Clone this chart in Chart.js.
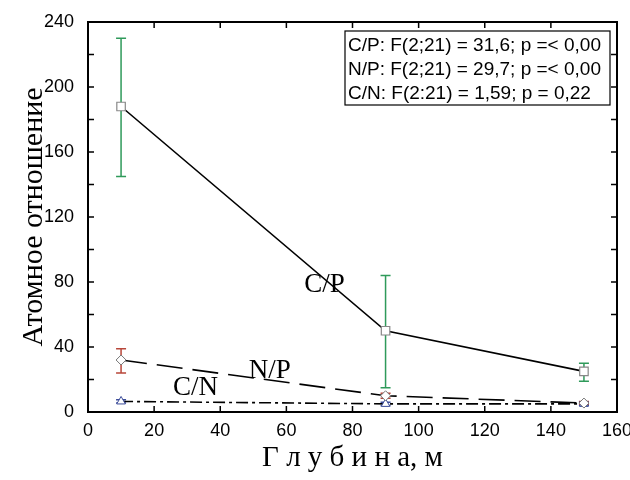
<!DOCTYPE html>
<html>
<head>
<meta charset="utf-8">
<script src="https://cdn.jsdelivr.net/npm/chart.js@4.4.0/dist/chart.umd.min.js"></script>
<style>
  body { margin: 0; background: #fff; }
  #wrap { width: 630px; height: 480px; position: relative; }
</style>
</head>
<body>
<div id="wrap"><canvas id="c"></canvas></div>
<script>
// depth, m
const depth = [10, 90, 150];
// C/P ratio, mean and error range
const cpMean = [188, 50, 25];
const cpHigh = [230, 84, 30];
const cpLow  = [145, 15, 19];
// N/P ratio
const npMean = [32, 10, 5.5];
const npHigh = [39, 11.5, 6.5];
const npLow  = [24, 8.5, 4.5];
// C/N ratio
const cnMean = [6.5, 5, 5];
const cnHigh = [7.5, 6, 6];
const cnLow  = [5.5, 4, 4];

const statLines = [
  'C/P: F(2;21) = 31,6; p =< 0,00',
  'N/P: F(2;21) = 29,7; p =< 0,00',
  'C/N: F(2:21) = 1,59; p = 0,22'
];
// series labels placed in data coordinates
const seriesLabels = [
  { text: 'C/P', x: 71.5, y: 78 },
  { text: 'N/P', x: 55, y: 25 },
  { text: 'C/N', x: 32.5, y: 15 }
];

function pts(ys) { return depth.map((d, i) => ({ x: d, y: ys[i] })); }

const errSets = [
  { hi: cpHigh, lo: cpLow, color: '#2f9a5a' },
  { hi: npHigh, lo: npLow, color: '#b8473a' },
  { hi: cnHigh, lo: cnLow, color: '#3c4d9a' }
];

const extras = {
  id: 'extras',
  beforeDatasetsDraw(chart) {
    const ctx = chart.ctx, xs = chart.scales.x, ys = chart.scales.y;
    ctx.save();
    ctx.lineWidth = 1.5;
    errSets.forEach(e => {
      ctx.strokeStyle = e.color;
      depth.forEach((d, i) => {
        const px = xs.getPixelForValue(d);
        const t = ys.getPixelForValue(e.hi[i]), b = ys.getPixelForValue(e.lo[i]);
        ctx.beginPath();
        ctx.moveTo(px, t); ctx.lineTo(px, b);
        ctx.moveTo(px - 5, t); ctx.lineTo(px + 5, t);
        ctx.moveTo(px - 5, b); ctx.lineTo(px + 5, b);
        ctx.stroke();
      });
    });
    ctx.restore();
  },
  afterDraw(chart) {
    const ctx = chart.ctx, a = chart.chartArea, xs = chart.scales.x, ys = chart.scales.y;
    ctx.save();
    // frame
    ctx.strokeStyle = '#000';
    ctx.lineWidth = 2;
    ctx.strokeRect(a.left, a.top, a.right - a.left, a.bottom - a.top);
    // inward ticks
    ctx.lineWidth = 1.5;
    ctx.beginPath();
    for (let v = 0; v <= 160; v += 20) {
      const px = xs.getPixelForValue(v);
      ctx.moveTo(px, a.bottom); ctx.lineTo(px, a.bottom - 6);
      ctx.moveTo(px, a.top); ctx.lineTo(px, a.top + 6);
    }
    for (let v = 0; v <= 240; v += 20) {
      const py = ys.getPixelForValue(v);
      ctx.moveTo(a.left, py); ctx.lineTo(a.left + 6, py);
      ctx.moveTo(a.right, py); ctx.lineTo(a.right - 6, py);
    }
    ctx.stroke();
    // series labels
    ctx.fillStyle = '#000';
    ctx.font = '27px "Liberation Serif", "DejaVu Serif", serif';
    ctx.textAlign = 'center';
    ctx.textBaseline = 'middle';
    seriesLabels.forEach(l => {
      ctx.fillText(l.text, xs.getPixelForValue(l.x), ys.getPixelForValue(l.y));
    });
    // stats box
    const bx = 345, by = 31, bw = 265, bh = 74;
    ctx.fillStyle = '#fff';
    ctx.fillRect(bx, by, bw, bh);
    ctx.lineWidth = 1.2;
    ctx.strokeRect(bx, by, bw, bh);
    ctx.fillStyle = '#000';
    ctx.font = '19px "Liberation Sans", Arial, sans-serif';
    ctx.textAlign = 'left';
    statLines.forEach((s, i) => ctx.fillText(s, bx + 3, by + 15 + i * 24));
    ctx.restore();
  }
};

new Chart(document.getElementById('c'), {
  type: 'line',
  data: {
    datasets: [
      {
        label: 'C/P', data: pts(cpMean),
        borderColor: '#000', borderWidth: 1.6,
        pointStyle: 'rect', pointRadius: 6, pointBorderColor: '#888',
        pointBackgroundColor: '#fff', pointBorderWidth: 1.2
      },
      {
        label: 'N/P', data: pts(npMean),
        borderColor: '#000', borderWidth: 1.6, borderDash: [26, 10],
        pointStyle: 'rectRot', pointRadius: 5, pointBorderColor: '#777',
        pointBackgroundColor: '#fff', pointBorderWidth: 1
      },
      {
        label: 'C/N', data: pts(cnMean),
        borderColor: '#000', borderWidth: 1.6, borderDash: [12, 4, 3, 4],
        pointStyle: 'triangle', pointRadius: 5, pointBorderColor: '#3c4d9a',
        pointBackgroundColor: '#fff', pointBorderWidth: 1
      }
    ]
  },
  options: {
    responsive: true,
    maintainAspectRatio: false,
    animation: false,
    layout: { padding: { left: 0, right: 13, top: 22, bottom: 0 } },
    plugins: { legend: { display: false }, tooltip: { enabled: false } },
    scales: {
      x: {
        type: 'linear', min: 0, max: 160,
        grid: { display: false },
        border: { display: false },
        ticks: { stepSize: 20, color: '#000', padding: 0,
          font: { family: '"Liberation Sans", Arial, sans-serif', size: 18 } },
        title: { display: true, text: 'Г л у б и н а, м', color: '#000', padding: { top: 4 },
          font: { family: '"Liberation Serif", "DejaVu Serif", serif', size: 29 } },
        afterFit(s) { s.height = 68; s.paddingLeft = 0; s.paddingRight = 0; }
      },
      y: {
        min: 0, max: 240,
        grid: { display: false },
        border: { display: false },
        ticks: { stepSize: 40, color: '#000', padding: 6,
          font: { family: '"Liberation Sans", Arial, sans-serif', size: 18 } },
        title: { display: true, text: 'Атомное отношение', color: '#000', padding: { top: 16, bottom: 0 },
          font: { family: '"Liberation Serif", "DejaVu Serif", serif', size: 30 } },
        afterFit(s) { s.width = 88; s.paddingTop = 0; s.paddingBottom = 0; }
      }
    }
  },
  plugins: [extras]
});
</script>
</body>
</html>
